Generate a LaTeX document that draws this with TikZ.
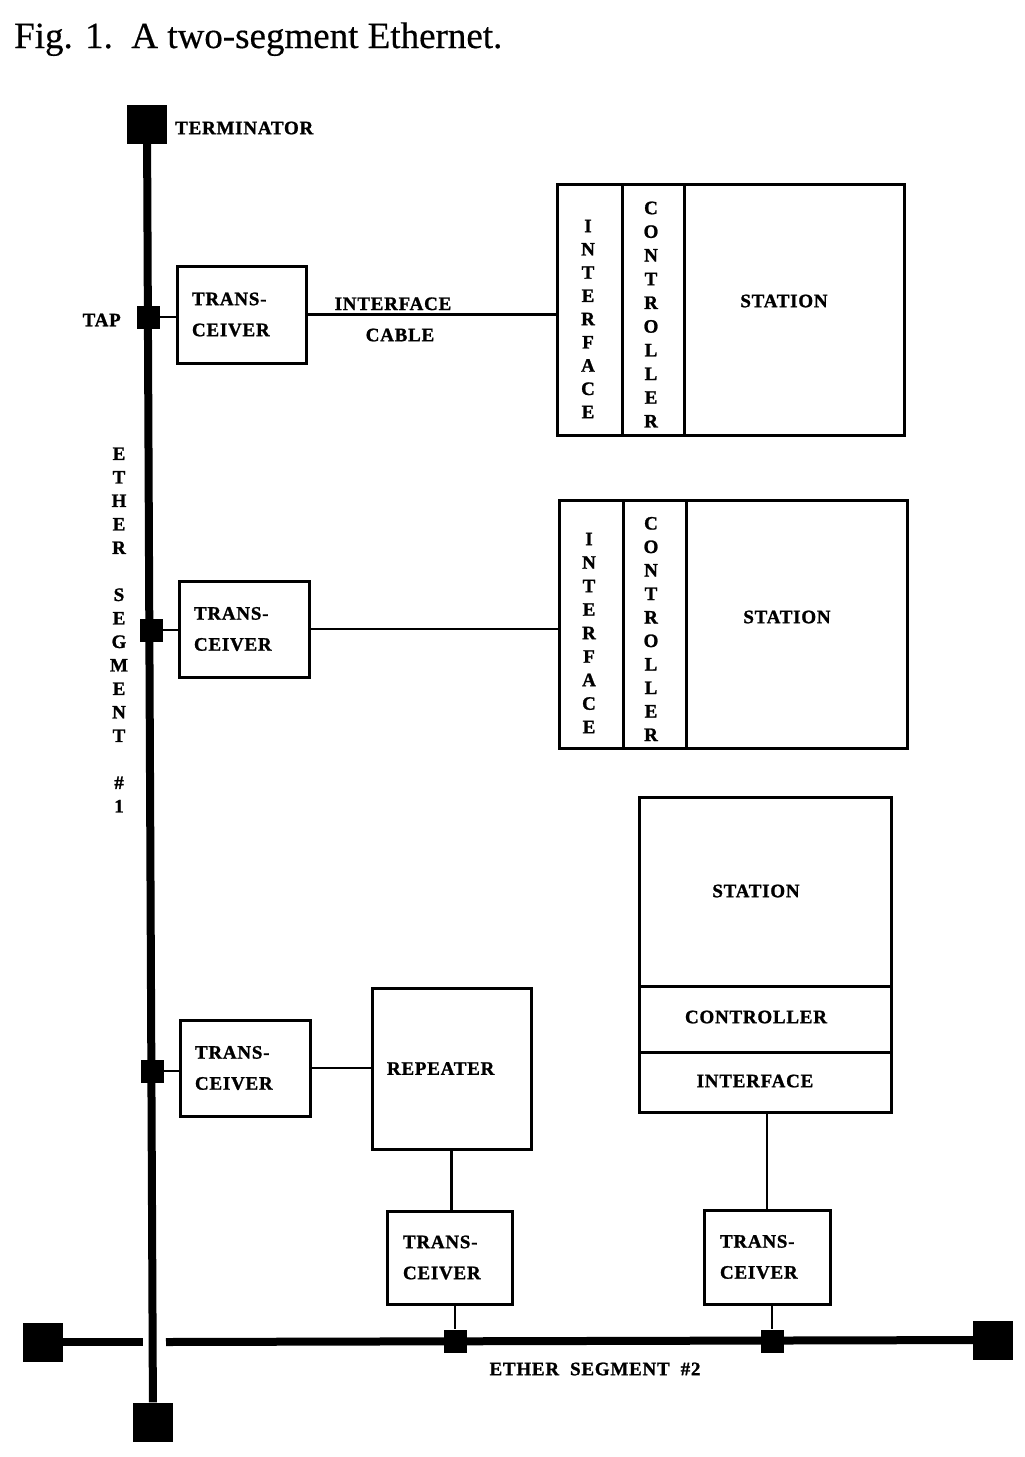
\documentclass[tikz,border=0pt]{standalone}
\usepackage{fontspec}
\setmainfont{Liberation Serif}
\newfontfamily\lblfont[LetterSpace=4,FakeBold=1.2]{Liberation Serif Bold}
\newfontfamily\colfont[FakeBold=1.2]{Liberation Serif Bold}
\newfontfamily\titlefont[FakeBold=0.4]{Liberation Serif}
\begin{document}
\begin{tikzpicture}[x=1pt,y=-1pt,
  lbl/.style={font=\lblfont\fontsize{19}{23}\selectfont, inner sep=0pt},
  tbox/.style={draw, line width=3pt, inner sep=0pt, align=left,
    font=\lblfont\fontsize{19}{31}\selectfont},
  sbox/.style={draw, line width=3pt, inner sep=0pt},
  ether/.style={line width=8pt},
  wire/.style={line width=2.6pt},
  tapsq/.style={fill=black, inner sep=0pt, minimum width=23pt, minimum height=23pt},
  termsq/.style={fill=black, inner sep=0pt, minimum width=40pt, minimum height=39pt},
  vcol/.style={inner sep=0pt, align=center, font=\colfont\fontsize{19}{23.5}\selectfont}
]
\useasboundingbox[fill=white] (0,0) rectangle (1025,1457);

% title
\node[anchor=base west, inner sep=0pt, font=\titlefont\fontsize{37}{40}\selectfont] (title) at (14,48) {Fig. 1.\ \ A two-segment Ethernet.};

% terminators
\node[termsq] (termT) at (147,124) {};
\node[termsq] (termB) at (153,1422) {};
\node[termsq] (termL) at (43,1342) {};
\node[termsq] (termR) at (993,1340) {};

% ether segment 2 (broken at crossing)
\coordinate (gapL) at (143,1342);
\coordinate (gapR) at (166,1342);
\draw[ether] (termL) -- (gapL);
\draw[ether] (gapR) -- (termR);
% ether segment 1
\draw[ether] (termT) -- (termB);

% taps
\node[tapsq] (tap1) at (148,317) {};
\node[tapsq] (tap2) at (151,630) {};
\node[tapsq] (tap3) at (152,1071) {};
\node[tapsq] (tap4) at (455,1341) {};
\node[tapsq] (tap5) at (772,1341) {};

% labels on ether
\node[lbl, anchor=west] (termlbl) at (175,128) {TERMINATOR};
\node[lbl, anchor=east] (taplbl) at (121,320) {TAP};
\node[vcol] (eth1) at (119,630) {E\\T\\H\\E\\R\\\mbox{}\\S\\E\\G\\M\\E\\N\\T\\\mbox{}\\\#\\1};
\node[lbl] (eth2) at (595,1369) {ETHER\ \ SEGMENT\ \ \#2};

% transceivers
\node[tbox, minimum width=129pt, minimum height=97pt, text width=99pt] (t1) at (241.5,314.5) {TRANS-\\CEIVER};
\node[tbox, minimum width=130pt, minimum height=96pt, text width=100pt] (t2) at (244,629) {TRANS-\\CEIVER};
\node[tbox, minimum width=130pt, minimum height=96pt, text width=100pt] (t3) at (245,1068) {TRANS-\\CEIVER};
\node[tbox, minimum width=125pt, minimum height=93pt, text width=93pt] (t4) at (449.5,1257.5) {TRANS-\\CEIVER};
\node[tbox, minimum width=126pt, minimum height=94pt, text width=94pt] (t5) at (767,1257) {TRANS-\\CEIVER};

% repeater
\node[tbox, minimum width=159pt, minimum height=161pt, text width=129pt] (rep) at (451.5,1068.5) {REPEATER};

% station 1
\node[sbox, minimum width=347pt, minimum height=251pt] (s1) at (730.5,309.5) {};
\draw[line width=3pt] (622,184) -- (622,435);
\draw[line width=3pt] (684,184) -- (684,435);
\node[vcol, font=\colfont\fontsize{19}{23.25}\selectfont] (if1) at (588,319) {I\\N\\T\\E\\R\\F\\A\\C\\E};
\node[vcol, font=\colfont\fontsize{19}{23.7}\selectfont] (ct1) at (651,314.5) {C\\O\\N\\T\\R\\O\\L\\L\\E\\R};
\node[lbl] (st1) at (784,301) {STATION};

% station 2
\node[sbox, minimum width=348pt, minimum height=248pt] (s2) at (733,624) {};
\draw[line width=3pt] (623,500) -- (623,748);
\draw[line width=3pt] (686,500) -- (686,748);
\node[vcol] (if2) at (589,633) {I\\N\\T\\E\\R\\F\\A\\C\\E};
\node[vcol] (ct2) at (651,629) {C\\O\\N\\T\\R\\O\\L\\L\\E\\R};
\node[lbl] (st2) at (787,617) {STATION};

% station 3
\node[sbox, minimum width=252pt, minimum height=315pt] (s3) at (765,954.5) {};
\draw[line width=3pt] (639,986) -- (891,986);
\draw[line width=3pt] (639,1052) -- (891,1052);
\node[lbl] (st3) at (756,891) {STATION};
\node[lbl] (ct3) at (756,1017) {CONTROLLER};
\node[lbl] (if3) at (755,1081) {INTERFACE};

% connectors
\draw[wire] (tap1) -- (tap1 -| t1.west);
\draw[wire] (t1.east) -- (t1.east -| s1.west);
\node[lbl, anchor=base] (cab1) at (393,310) {INTERFACE};
\node[lbl] (cab2) at (400,335) {CABLE};
\draw[wire] (tap2) -- (tap2 -| t2.west);
\draw[wire] (t2.east) -- (t2.east -| s2.west);
\draw[wire] (tap3) -- (tap3 -| t3.west);
\draw[wire] (t3.east) -- (t3.east -| rep.west);
\draw[wire] (rep.south) -- (rep.south |- t4.north);
\draw[wire] (tap4 |- t4.south) -- (tap4);
\draw[wire] (t5.north) -- (t5.north |- s3.south);
\draw[wire] (tap5 |- t5.south) -- (tap5);
\end{tikzpicture}
\end{document}
